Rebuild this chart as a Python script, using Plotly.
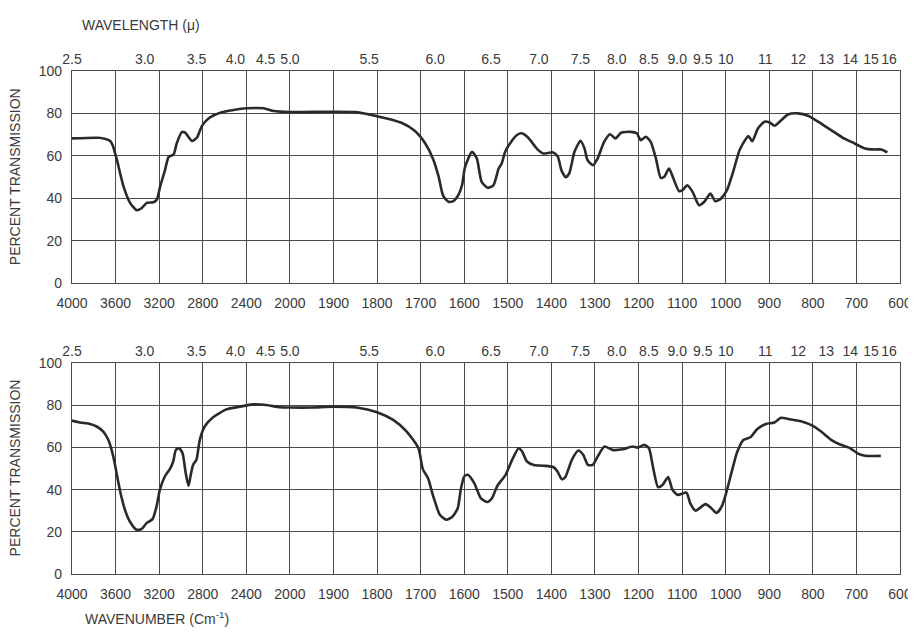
import plotly.graph_objects as go

# ---------------- data ----------------
WN_TICKS = [4000, 3600, 3200, 2800, 2400, 2000, 1900, 1800, 1700, 1600,
            1500, 1400, 1300, 1200, 1100, 1000, 900, 800, 700, 600]
WL_TICKS = [2.5, 3.0, 3.5, 4.0, 4.5, 5.0, 5.5, 6.0, 6.5, 7.0, 7.5, 8.0,
            8.5, 9.0, 9.5, 10, 11, 12, 13, 14, 15, 16]
WL_LABELS = ["2.5", "3.0", "3.5", "4.0", "4.5", "5.0", "5.5", "6.0", "6.5",
             "7.0", "7.5", "8.0", "8.5", "9.0", "9.5", "10", "11", "12",
             "13", "14", "15", "16"]
T_TICKS = [0, 20, 40, 60, 80, 100]

top_wn = [4000, 3758, 3700, 3650, 3626, 3589, 3528, 3467, 3405, 3359, 3313,
          3252, 3221, 3190, 3145, 3114, 3068, 3038, 2992, 2961, 2900, 2854,
          2808, 2747, 2639, 2517, 2394, 2241, 2149, 2000, 1900, 1850, 1800,
          1744, 1713, 1690, 1671, 1659, 1648, 1636, 1625, 1613, 1605, 1598,
          1582, 1571, 1560, 1546, 1533, 1521, 1514, 1506, 1495, 1479, 1468,
          1453, 1434, 1419, 1396, 1385, 1377, 1367, 1359, 1347, 1333, 1324,
          1317, 1305, 1294, 1279, 1265, 1253, 1240, 1218, 1204, 1195, 1183,
          1172, 1160, 1149, 1141, 1130, 1120, 1107, 1099, 1088, 1076, 1061,
          1049, 1035, 1024, 1011, 997, 984, 968, 953, 948, 939, 926, 911,
          899, 888, 872, 857, 834, 811, 788, 758, 731, 704, 681, 658, 643,
          629]
top_T = [68.2, 68.5, 68.0, 67.0, 64.9, 58.3, 45.7, 37.8, 34.3, 35.4, 37.8,
         38.1, 39.4, 45.7, 53.5, 59.4, 60.6, 66.0, 71.2, 70.9, 67.0, 68.5,
         74.0, 77.6, 80.3, 81.6, 82.4, 82.4, 81.1, 80.6, 80.8, 80.6, 78.7,
         75.6, 71.7, 66.0, 58.3, 50.4, 41.0, 38.3, 38.6, 41.7, 46.1, 54.8,
         61.9, 58.7, 47.7, 44.9, 46.1, 54.0, 56.4, 61.9, 65.8, 69.8, 70.6,
         68.5, 63.5, 61.1, 61.6, 59.5, 53.2, 49.9, 51.7, 61.9, 67.1, 63.5,
         58.0, 55.6, 58.7, 66.6, 70.2, 68.2, 70.9, 71.3, 70.6, 67.4, 69.0,
         66.6, 58.7, 49.6, 50.1, 54.0, 49.3, 43.3, 43.8, 46.1, 43.0, 36.7,
         38.3, 42.2, 38.6, 39.8, 43.8, 51.7, 62.7, 68.2, 69.3, 66.9, 72.9,
         76.1, 75.7, 74.2, 76.9, 79.5, 80.0, 78.9, 76.1, 72.1, 68.5, 65.8,
         63.5, 63.0, 63.0, 61.6]

bot_wn = [4000, 3927, 3835, 3774, 3713, 3667, 3621, 3585, 3554, 3514, 3469,
          3408, 3362, 3316, 3261, 3224, 3194, 3148, 3102, 3071, 3047, 3017,
          2986, 2956, 2931, 2913, 2889, 2858, 2827, 2782, 2705, 2583, 2461,
          2339, 2217, 2092, 2000, 1950, 1900, 1847, 1800, 1763, 1732, 1705,
          1695, 1683, 1671, 1656, 1641, 1628, 1615, 1608, 1600, 1592, 1577,
          1562, 1547, 1536, 1524, 1505, 1490, 1475, 1467, 1456, 1440, 1418,
          1395, 1386, 1376, 1368, 1353, 1338, 1327, 1316, 1305, 1293, 1278,
          1259, 1236, 1214, 1202, 1187, 1176, 1167, 1155, 1145, 1132, 1122,
          1110, 1090, 1081, 1069, 1060, 1046, 1033, 1021, 1009, 999, 986,
          974, 959, 943, 928, 908, 888, 873, 857, 827, 800, 781, 758, 739,
          717, 695, 680, 644]
bot_T = [72.7, 71.8, 71.1, 69.9, 67.5, 63.6, 55.7, 46.2, 38.3, 30.4, 24.9,
         21.0, 21.3, 24.1, 26.0, 32.0, 39.9, 46.2, 49.7, 53.3, 58.8, 59.6,
         57.3, 47.8, 41.8, 46.2, 51.7, 54.1, 63.6, 69.9, 74.3, 78.0, 79.3,
         80.4, 80.1, 79.0, 78.9, 78.9, 79.3, 78.9, 76.7, 73.0, 67.5, 59.6,
         49.7, 45.4, 36.8, 28.1, 25.7, 27.0, 31.0, 39.9, 46.2, 47.0, 43.1,
         36.0, 34.1, 36.0, 41.8, 47.0, 54.1, 59.6, 58.0, 53.3, 51.7, 51.3,
         50.6, 48.6, 44.9, 45.9, 54.1, 58.5, 56.5, 51.7, 51.7, 56.0, 60.4,
         58.8, 59.1, 60.4, 59.9, 61.2, 59.6, 50.9, 41.1, 42.2, 45.9, 39.9,
         37.5, 38.6, 33.3, 30.0, 31.2, 33.1, 31.2, 28.9, 32.0, 38.3, 48.6,
         57.6, 63.6, 64.8, 68.6, 71.1, 71.8, 74.0, 73.5, 72.4, 70.2, 67.5,
         63.6, 61.5, 59.9, 56.9, 56.0, 56.0]


# chart paper scale: 4000-2000 cm-1 at 400 per division, 2000-600 at 100 per division
def wn_to_u(w):
    return (4000 - w) / 400.0 if w >= 2000 else 5 + (2000 - w) / 100.0


FONT = "Liberation Sans, Arial, sans-serif"
INK = "#2a2a2a"
GRID = "#4a4a4a"
TXT = "#3a3a3a"

fig = go.Figure()
for wn, T, xa, ya in [(top_wn, top_T, "x", "y"), (bot_wn, bot_T, "x2", "y2")]:
    fig.add_trace(go.Scatter(
        x=[wn_to_u(w) for w in wn], y=T, xaxis=xa, yaxis=ya, mode="lines",
        line=dict(color=INK, width=2.6, shape="spline", smoothing=0.6),
        hoverinfo="skip", showlegend=False))
# invisible traces to activate the wavelength (top) axes
for xa, ya in [("x3", "y"), ("x4", "y2")]:
    fig.add_trace(go.Scatter(x=[0, 19], y=[None, None], xaxis=xa, yaxis=ya,
                             mode="lines", showlegend=False, hoverinfo="skip"))

u_range = [wn_to_u(WN_TICKS[0]), wn_to_u(WN_TICKS[-1])]
wn_tickvals = [wn_to_u(w) for w in WN_TICKS]
wl_tickvals = [wn_to_u(10000.0 / l) for l in WL_TICKS]

TICKFONT = dict(family=FONT, size=14, color=TXT)
xcommon = dict(range=u_range, showgrid=True, gridcolor=GRID, gridwidth=1.1,
               showline=True, linecolor=GRID, linewidth=1.4, mirror=True,
               ticks="", zeroline=False, tickvals=wn_tickvals, tickangle=0,
               ticktext=[str(w) for w in WN_TICKS], ticklabelstandoff=7,
               automargin=False, tickfont=TICKFONT)
ycommon = dict(range=[0, 100], showgrid=True, gridcolor=GRID, gridwidth=1.1,
               showline=True, linecolor=GRID, linewidth=1.4, mirror=True,
               ticks="", zeroline=False, tickvals=T_TICKS,
               ticklabelstandoff=6, automargin=False, tickfont=TICKFONT)
wlcommon = dict(range=u_range, showgrid=False, showline=False, ticks="",
                zeroline=False, side="top", tickvals=wl_tickvals, tickangle=0,
                ticktext=WL_LABELS, ticklabelstandoff=3, automargin=False,
                tickfont=TICKFONT)

fig.update_layout(
    width=916, height=632,
    margin=dict(l=64, r=24, t=63, b=66),
    paper_bgcolor="white", plot_bgcolor="white",
    xaxis=dict(anchor="y", domain=[0, 1], **xcommon),
    yaxis=dict(anchor="x", domain=[0.5785, 1.0], **ycommon),
    xaxis2=dict(anchor="y2", domain=[0, 1], **xcommon),
    yaxis2=dict(anchor="x2", domain=[0.0, 0.4195], **ycommon),
    xaxis3=dict(anchor="y", overlaying="x", **wlcommon),
    xaxis4=dict(anchor="y2", overlaying="x2", **wlcommon),
    annotations=[
        dict(text="WAVELENGTH (μ)", xref="paper", yref="paper",
             x=0.01, y=1.0915, xanchor="left", yanchor="middle",
             showarrow=False, font=dict(family=FONT, size=14, color=TXT)),
        dict(text="WAVENUMBER (Cm<sup>-1</sup>)", xref="paper", yref="paper",
             x=0.013, y=-0.088, xanchor="left", yanchor="middle",
             showarrow=False, font=dict(family=FONT, size=14, color=TXT)),
        dict(text="PERCENT TRANSMISSION", xref="paper", yref="paper",
             x=-0.0688, y=0.789, xanchor="center", yanchor="middle",
             textangle=-90, showarrow=False,
             font=dict(family=FONT, size=14, color=TXT)),
        dict(text="PERCENT TRANSMISSION", xref="paper", yref="paper",
             x=-0.0688, y=0.21, xanchor="center", yanchor="middle",
             textangle=-90, showarrow=False,
             font=dict(family=FONT, size=14, color=TXT)),
    ],
)

fig.write_html("out.html")
